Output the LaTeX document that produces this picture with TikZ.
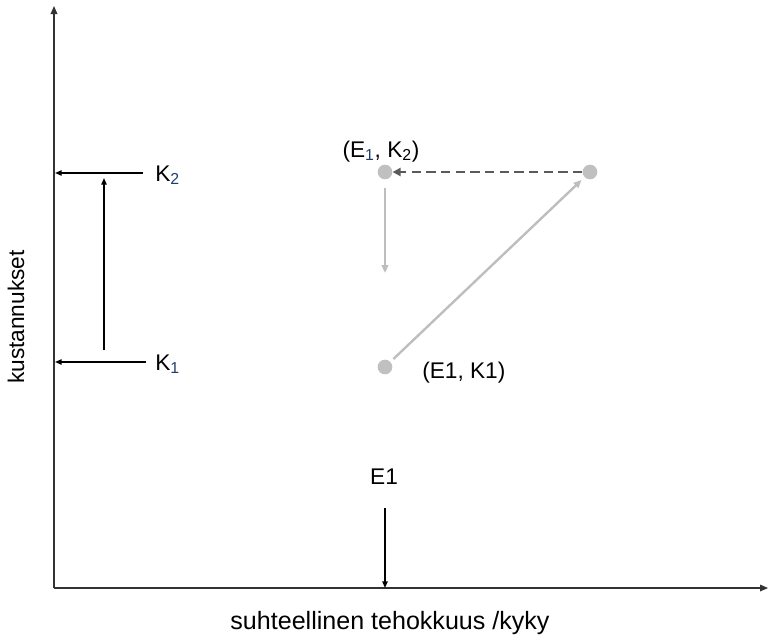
\documentclass[tikz,border=0pt]{standalone}
\usepackage{fontspec}
\setmainfont{Liberation Sans}
\usetikzlibrary{arrows.meta}
\definecolor{dotgrey}{RGB}{192,192,192}
\definecolor{lightarr}{RGB}{190,190,190}
\definecolor{darkdash}{RGB}{90,90,90}
\definecolor{subblue}{RGB}{30,60,110}
\begin{document}
\begin{tikzpicture}[x=0.75pt,y=-0.75pt,
  axis/.style={draw=black!80,line width=0.9pt,-{Triangle[length=6pt,width=5pt]}},
  blackarr/.style={draw=black,line width=1.1pt,-{Triangle[length=5pt,width=4pt]}},
  greyarr/.style={draw=lightarr,line width=1.8pt,-{Triangle[length=6pt,width=5pt]}},
  dasharr/.style={draw=darkdash,line width=2pt,dash pattern=on 7pt off 4pt,-{Triangle[length=6pt,width=6pt]}},
  dot/.style={circle,fill=dotgrey,inner sep=0pt,minimum size=11pt},
  lbl/.style={font=\fontsize{17}{20}\selectfont,inner sep=0pt},
  axlbl/.style={font=\fontsize{18.8}{22}\selectfont,inner sep=0pt}]
\useasboundingbox (0,0) rectangle (768,637);
% axes
\coordinate (O) at (54,588);
\coordinate (Ytop) at (54,6);
\coordinate (Xend) at (768,588);
\draw[axis] (O) -- (Ytop);
\draw[axis] (O) -- (Xend);
% axis labels
\node[axlbl,anchor=base] (xl) at (390,629) {suhteellinen tehokkuus /kyky};
\node[lbl,rotate=90,anchor=base] (yl) at (24,317) {kustannukset};
% left K arrows
\coordinate (k2s) at (143,173);
\coordinate (k2e) at (55,173);
\coordinate (k1s) at (146,362);
\coordinate (k1e) at (55,362);
\node[lbl,anchor=base west] (K2) at (155,181) {K\textsubscript{\color{subblue}2}};
\node[lbl,anchor=base west] (K1) at (155,370) {K\textsubscript{\color{subblue}1}};
\draw[blackarr] (k2s) -- (k2e);
\draw[blackarr] (k1s) -- (k1e);
\coordinate (vs) at (104,350);
\coordinate (ve) at (104,178);
\draw[blackarr] (vs) -- (ve);
% points
\node[dot] (P12) at (385,172) {};
\node[dot] (P3) at (590,172) {};
\node[dot] (P11) at (385,367) {};
\node[lbl,anchor=base] (L12) at (381,157) {(E\textsubscript{\color{subblue}1}, K\textsubscript{2})};
\node[lbl,anchor=base west] (L11) at (422,378) {(E1, K1)};
\draw[dasharr] (P3) -- (P12);
\coordinate (ds) at (385,188);
\coordinate (de) at (385,273);
\draw[greyarr] (ds) -- (de);
\draw[greyarr,shorten <=3pt,shorten >=3pt] (P11) -- (P3);
% E1
\node[lbl,anchor=base] (E1) at (384,484) {E1};
\coordinate (es) at (385,508);
\draw[blackarr] (es) -- (O -| es);
\end{tikzpicture}
\end{document}
